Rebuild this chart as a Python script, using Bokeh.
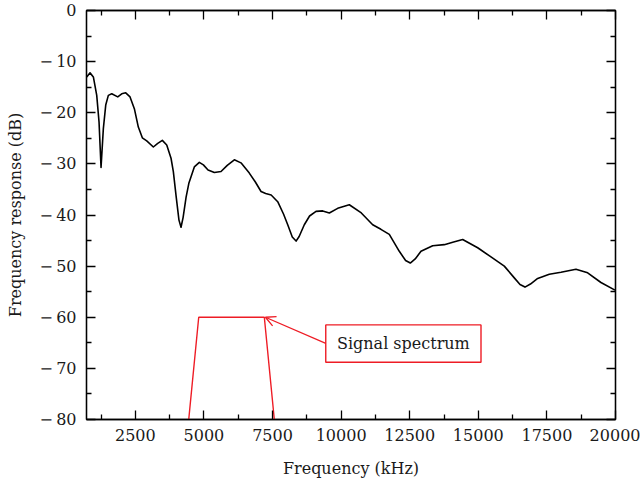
from bokeh.plotting import figure
from bokeh.models import LinearAxis, FixedTicker, CustomJSTickFormatter, Range1d, Arrow, OpenHead
from bokeh.embed import file_html
from bokeh.resources import INLINE
from bokeh.core.properties import value

# Frequency response curve (kHz, dB)
freq = [729, 849, 970, 1093, 1177, 1250, 1334, 1421, 1516, 1640, 1859, 2004, 2150,
        2307, 2464, 2609, 2755, 2915, 3156, 3316, 3484, 3644, 3801, 3885, 3990, 4090,
        4165, 4240, 4350, 4450, 4530, 4650, 4832, 4980, 5150, 5380, 5623, 5850, 6108,
        6350, 6654, 6880, 7081, 7250, 7450, 7689, 7900, 8054, 8220, 8358, 8470, 8658,
        8850, 9085, 9330, 9570, 9875, 10298, 10736, 11151, 11450, 11756, 12120, 12350,
        12521, 12700, 12911, 13337, 13760, 14100, 14430, 14977, 15462, 15947, 16311,
        16520, 16701, 16900, 17164, 17587, 18013, 18559, 18985, 19470, 19981]
resp = [-13.0, -12.2, -13.0, -16.6, -21.8, -30.7, -23.1, -18.5, -16.6, -16.3, -16.9,
        -16.3, -16.1, -16.9, -19.2, -22.8, -24.9, -25.5, -26.7, -26.0, -25.4, -26.3,
        -28.9, -31.5, -36.5, -41.0, -42.4, -40.5, -36.5, -33.8, -32.5, -30.6, -29.7,
        -30.2, -31.2, -31.7, -31.5, -30.3, -29.2, -29.8, -31.8, -33.6, -35.4, -35.8,
        -36.1, -37.4, -39.8, -41.9, -44.3, -45.1, -44.2, -41.9, -40.2, -39.3, -39.2,
        -39.6, -38.7, -38.0, -39.6, -41.9, -42.8, -43.8, -47.1, -48.9, -49.4, -48.6,
        -47.1, -46.0, -45.8, -45.3, -44.8, -46.4, -48.2, -50.0, -52.3, -53.6, -54.1,
        -53.5, -52.4, -51.6, -51.2, -50.6, -51.3, -53.2, -54.7]

# Signal spectrum (red trapezoid)
sig_freq = [4446, 4810, 7201, 7565]
sig_db = [-80, -60, -60, -80]

# Annotation box and arrow
note_text = "Signal spectrum"
box_left, box_right, box_top, box_bottom = 9440, 15098, -61.5, -68.8
arrow_start = (9440, -65.1)
arrow_end = (7240, -60.0)

x_ticks = [2500, 5000, 7500, 10000, 12500, 15000, 17500, 20000]
x_minor = [1250, 3750, 6250, 8750, 11250, 13750, 16250, 18750]
y_ticks = [0, -10, -20, -30, -40, -50, -60, -70, -80]
y_minor = [-5, -15, -25, -35, -45, -55, -65, -75]

FONT = "DejaVu Serif"
FS = "16px"
TXT = "#1a1a1a"
RED = "#ee1c25"

p = figure(width=640, height=482, output_backend="svg", toolbar_location=None,
           x_range=Range1d(720, 20000), y_range=Range1d(-80, 0),
           x_axis_label="Frequency (kHz)", y_axis_label="Frequency response (dB)",
           min_border_left=86, min_border_right=25, min_border_top=10, min_border_bottom=63)
p.grid.visible = False
p.outline_line_color = "black"
p.outline_line_width = 1.3
p.background_fill_color = "white"
p.border_fill_color = "white"

fmt = CustomJSTickFormatter(code="return tick < 0 ? '\u2212\u2009' + Math.abs(tick) : tick.toString();")
blank = CustomJSTickFormatter(code="return '';")


def style(ax, ticker, formatter):
    ax.ticker = ticker
    ax.formatter = formatter
    ax.axis_line_color = "black"
    ax.axis_line_width = 1.3
    ax.major_tick_line_color = "black"
    ax.minor_tick_line_color = "black"
    ax.major_tick_line_width = 1.3
    ax.minor_tick_line_width = 1.3
    ax.major_tick_in = 9
    ax.major_tick_out = 0
    ax.minor_tick_in = 5
    ax.minor_tick_out = 0
    ax.major_label_text_font = FONT
    ax.major_label_text_font_size = FS
    ax.major_label_text_color = TXT
    ax.axis_label_text_font = FONT
    ax.axis_label_text_font_size = FS
    ax.axis_label_text_font_style = "normal"
    ax.axis_label_text_color = TXT


style(p.xaxis[0], FixedTicker(ticks=x_ticks, minor_ticks=x_minor), fmt)
style(p.yaxis[0], FixedTicker(ticks=y_ticks, minor_ticks=y_minor), fmt)
p.xaxis[0].major_label_standoff = 9
p.xaxis[0].axis_label_standoff = 15
p.yaxis[0].major_label_standoff = 10
p.yaxis[0].axis_label_standoff = 12

top = LinearAxis()
style(top, FixedTicker(ticks=x_ticks, minor_ticks=x_minor), blank)
top.major_label_standoff = 0
right = LinearAxis()
style(right, FixedTicker(ticks=y_ticks, minor_ticks=y_minor), blank)
right.major_label_standoff = 0
p.add_layout(top, "above")
p.add_layout(right, "right")

p.line(freq, resp, line_color="black", line_width=1.6, line_join="round")
p.line(sig_freq, sig_db, line_color=RED, line_width=1.4)

p.add_layout(Arrow(end=OpenHead(line_color=RED, line_width=1.3, size=10),
                   x_start=arrow_start[0], y_start=arrow_start[1],
                   x_end=arrow_end[0], y_end=arrow_end[1],
                   line_color=RED, line_width=1.3))

p.quad(left=[box_left], right=[box_right], top=[box_top], bottom=[box_bottom],
       fill_color="white", line_color=RED, line_width=1.4)
p.text(x=[(box_left + box_right) / 2], y=[(box_top + box_bottom) / 2], text=[note_text],
       text_font=value(FONT), text_font_size=FS, text_color=TXT,
       text_align="center", text_baseline="middle")

open("out.html", "w").write(file_html(p, INLINE))
